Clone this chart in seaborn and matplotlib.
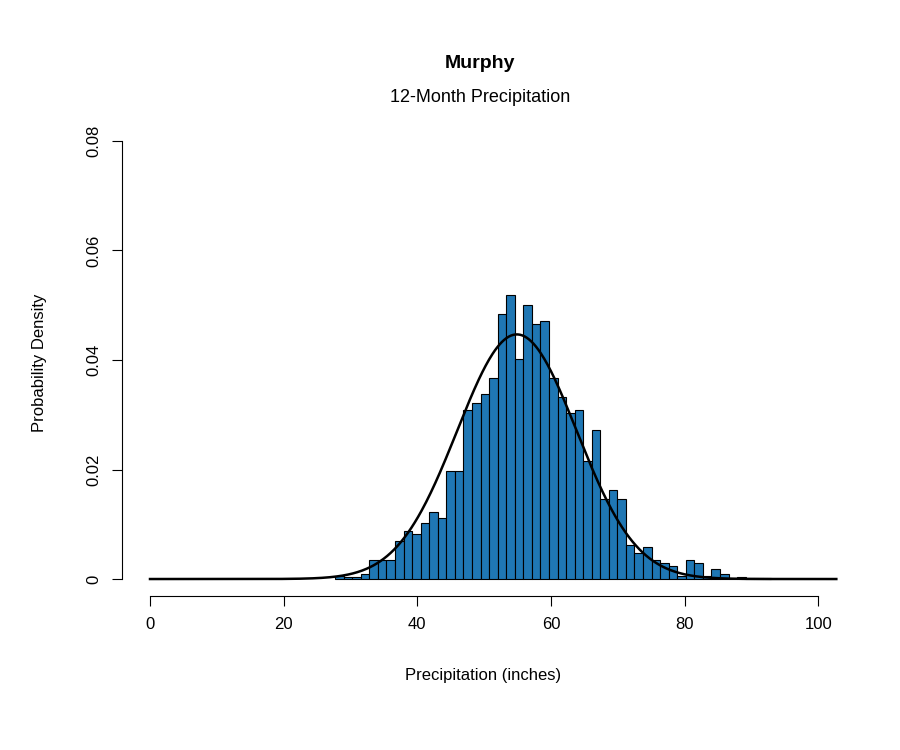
import matplotlib

matplotlib.use("Agg")
import matplotlib.pyplot as plt
import numpy as np
import pandas as pd
import seaborn as sns

plt.rcParams["font.family"] = "Liberation Sans"

# histogram bins (inches) and bar heights (probability density)
bin_start = 27.7
bin_width = 1.28
densities = [
    0.0005, 0.0003, 0.0003, 0.0010, 0.0034, 0.0034, 0.0034, 0.0069, 0.0087,
    0.0082, 0.0103, 0.0122, 0.0111, 0.0198, 0.0198, 0.0308, 0.0321, 0.0337,
    0.0367, 0.0484, 0.0518, 0.0401, 0.0500, 0.0465, 0.0471, 0.0367, 0.0332,
    0.0303, 0.0308, 0.0215, 0.0273, 0.0146, 0.0162, 0.0146, 0.0063, 0.0047,
    0.0058, 0.0034, 0.0029, 0.0024, 0.0005, 0.0034, 0.0029, 0.0005, 0.0018,
    0.0010, 0.0001, 0.0003, 0.0001, 0.0001, 0.0001,
]
# fitted normal curve parameters
fit_mean = 54.9
fit_sd = 8.93

edges = bin_start + bin_width * np.arange(len(densities) + 1)
df = pd.DataFrame({"center": (edges[:-1] + edges[1:]) / 2, "density": densities})

fig = plt.figure(figsize=(9, 7.5), dpi=100)
ax = fig.add_axes([122 / 900, 154 / 750, 723 / 900, 466 / 750])

sns.histplot(data=df, x="center", weights="density", bins=list(edges),
             stat="count", color="#1f77b4", edgecolor="black", linewidth=0.8,
             alpha=1, ax=ax)

xs = np.linspace(0, 102.7, 600)
pdf = np.exp(-0.5 * ((xs - fit_mean) / fit_sd) ** 2) / (fit_sd * np.sqrt(2 * np.pi))
sns.lineplot(x=xs, y=pdf, color="black", linewidth=1.8, ax=ax)

ax.set_xlim(-4.19, 104.0)
ax.set_ylim(-0.0031, 0.082)
ax.set_xticks([0, 20, 40, 60, 80, 100])
ax.set_yticks([0, 0.02, 0.04, 0.06, 0.08])
ax.set_yticklabels(["0", "0.02", "0.04", "0.06", "0.08"], rotation=90, va="center")
ax.spines[["top", "right"]].set_visible(False)
ax.spines["left"].set_bounds(0, 0.08)
ax.spines["bottom"].set_bounds(0, 100)
ax.tick_params(length=7, labelsize=12, pad=8)
ax.set_xlabel("Precipitation (inches)", fontsize=12, labelpad=26)
ax.set_ylabel("Probability Density", fontsize=12, labelpad=28)

fig.text(0.533, 1 - 63 / 750, "Murphy", ha="center", va="center",
         fontsize=14, fontweight="bold")
fig.text(0.533, 1 - 97 / 750, "12-Month Precipitation", ha="center",
         va="center", fontsize=13)

fig.savefig("out.png", dpi=100)
